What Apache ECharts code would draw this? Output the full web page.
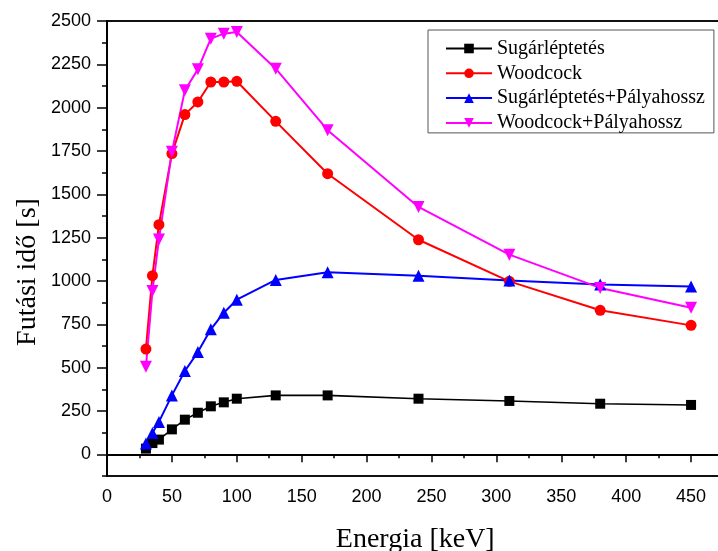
<!DOCTYPE html>
<html>
<head>
<meta charset="utf-8">
<script src="https://cdn.jsdelivr.net/npm/echarts@6/dist/echarts.min.js"></script>
<style>
  html, body { margin: 0; padding: 0; background: #fff; }
  #chart { width: 718px; height: 551px; }
</style>
</head>
<body>
<div id="chart"></div>
<script>
// Energy grid (keV) and measured run times (s)
const energy = [30, 35, 40, 50, 60, 70, 80, 90, 100, 130, 170, 240, 310, 380, 450];
const sugarleptetes = [33, 65, 85, 144, 200, 240, 277, 300, 321, 340, 340, 321, 308, 292, 285];
const woodcock = [607, 1031, 1325, 1735, 1960, 2033, 2148, 2148, 2152, 1921, 1619, 1238, 998, 831, 744];
const sugarPalya = [62, 123, 187, 340, 481, 590, 721, 817, 892, 1006, 1050, 1030, 1003, 980, 968];
const woodPalya = [505, 942, 1240, 1745, 2100, 2221, 2398, 2427, 2437, 2225, 1870, 1427, 1152, 960, 846];

const seriesNames = ['Sugárléptetés', 'Woodcock', 'Sugárléptetés+Pályahossz', 'Woodcock+Pályahossz'];
const xTicks = [0, 50, 100, 150, 200, 250, 300, 350, 400, 450];
const yTicks = [0, 250, 500, 750, 1000, 1250, 1500, 1750, 2000, 2250, 2500];

const pairs = ys => energy.map((e, i) => [e, ys[i]]);

const chart = echarts.init(document.getElementById('chart'), null, { renderer: 'canvas' });

const axisFont = { fontFamily: '"Liberation Sans", Arial, sans-serif', fontSize: 18, color: '#000' };
const serif = '"Liberation Serif", "Times New Roman", serif';
const plain = v => String(v);

chart.setOption({
  animation: false,
  backgroundColor: '#fff',
  grid: {
    left: 107, top: 21, right: -5.5, bottom: 75,
    containLabel: false, outerBoundsMode: 'none',
    show: true, borderColor: '#111', borderWidth: 2, backgroundColor: 'transparent'
  },
  xAxis: [
    { // minor ticks every 25
      type: 'value', min: 0, max: 475, interval: 25, position: 'bottom',
      axisLine: { show: true, lineStyle: { color: '#000', width: 2 } },
      axisTick: { show: true, length: 4, lineStyle: { color: '#000', width: 1.5 } },
      axisLabel: { show: false }, splitLine: { show: false }
    },
    { // major ticks and labels
      type: 'value', min: 0, max: 475, position: 'bottom',
      axisLine: { show: false },
      axisTick: { show: true, length: 8, customValues: xTicks, lineStyle: { color: '#000', width: 1.5 } },
      axisLabel: Object.assign({ show: true, margin: 12, customValues: xTicks, formatter: plain }, axisFont),
      splitLine: { show: false },
      name: 'Energia [keV]', nameLocation: 'middle', nameGap: 50,
      nameTextStyle: { fontFamily: serif, fontSize: 28, color: '#000' }
    }
  ],
  yAxis: [
    { // minor ticks every 125
      type: 'value', min: -125, max: 2500, interval: 125, position: 'left',
      axisLine: { show: true, lineStyle: { color: '#000', width: 2 } },
      axisTick: { show: true, length: 5, lineStyle: { color: '#000', width: 1.5 } },
      axisLabel: { show: false }, splitLine: { show: false }
    },
    { // major ticks and labels
      type: 'value', min: -125, max: 2500, position: 'left',
      axisLine: { show: false },
      axisTick: { show: true, length: 10, customValues: yTicks, lineStyle: { color: '#000', width: 1.5 } },
      axisLabel: Object.assign({ show: true, margin: 16, customValues: yTicks, formatter: plain }, axisFont),
      splitLine: { show: false }
    }
  ],
  graphic: [{
    type: 'text', x: 28, y: 272, rotation: Math.PI / 2,
    style: {
      text: 'Futási idő [s]', font: '28px ' + serif, fill: '#000',
      textAlign: 'center', textVerticalAlign: 'middle'
    }
  }],
  legend: {
    orient: 'vertical', left: 428, top: 30,
    padding: [8.5, 9, 0, 17], itemGap: 4.8,
    itemWidth: 46, itemHeight: 12,
    backgroundColor: '#fff', borderColor: '#555', borderWidth: 1,
    textStyle: { fontFamily: serif, fontSize: 20, color: '#000', lineHeight: 18 },
    data: seriesNames
  },
  series: [
    {
      name: seriesNames[0], type: 'line', xAxisIndex: 1, yAxisIndex: 1,
      data: pairs(sugarleptetes), symbol: 'rect', symbolSize: 10,
      lineStyle: { color: '#000', width: 1.6 }, itemStyle: { color: '#000' }
    },
    {
      name: seriesNames[1], type: 'line', xAxisIndex: 1, yAxisIndex: 1,
      data: pairs(woodcock), symbol: 'circle', symbolSize: 11,
      lineStyle: { color: '#ff0000', width: 2 }, itemStyle: { color: '#ff0000' }
    },
    {
      name: seriesNames[2], type: 'line', xAxisIndex: 1, yAxisIndex: 1,
      data: pairs(sugarPalya), symbol: 'triangle', symbolSize: 12,
      lineStyle: { color: '#0000ff', width: 2 }, itemStyle: { color: '#0000ff' }
    },
    {
      name: seriesNames[3], type: 'line', xAxisIndex: 1, yAxisIndex: 1,
      data: pairs(woodPalya), symbol: 'triangle', symbolRotate: 180, symbolSize: 12,
      lineStyle: { color: '#ff00ff', width: 2 }, itemStyle: { color: '#ff00ff' }
    }
  ]
});
</script>
</body>
</html>
